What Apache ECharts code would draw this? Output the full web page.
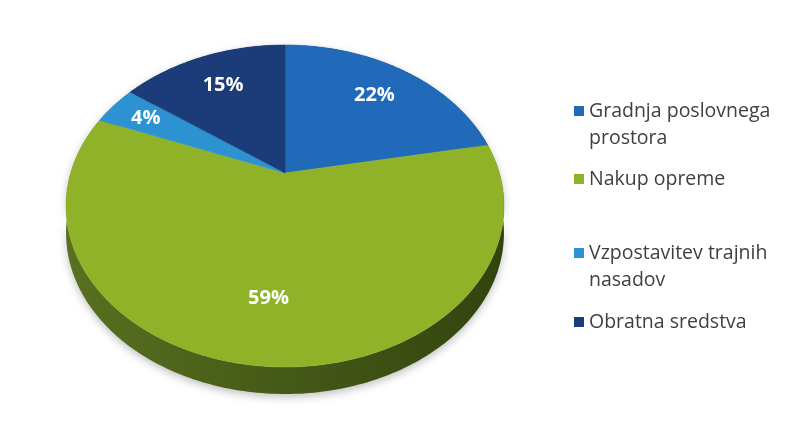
<!DOCTYPE html>
<html><head><meta charset="utf-8">
<script src="https://cdn.jsdelivr.net/npm/echarts@6/dist/echarts.min.js"></script>
<style>html,body{margin:0;padding:0;background:#fff}#c{width:792px;height:441px}</style>
</head><body><div id="c"></div>
<script>
const categories = ['Gradnja poslovnega prostora', 'Nakup opreme', 'Vzpostavitev trajnih nasadov', 'Obratna sredstva'];
const values = [22, 59, 4, 15];
const legendLabels = ['Gradnja poslovnega\nprostora', 'Nakup opreme', 'Vzpostavitev trajnih\nnasadov', 'Obratna sredstva'];

// styles / layout (not data)
const colors = ['#2169b9', '#8fb228', '#2c92d2', '#1b3c78'];
const sideDark = [['#174f8c', '#0f3a6a'], ['#587020', '#33430e'], ['#1f6d9e', '#164f75'], ['#132c58', '#0c1d3d']];
const labelR = [0.73, 0.7, 0.8, 0.72];
const legendTops = [70.5, 165.5, 212.5, 308.5];

// perspective projection of the pie disc
const CX = 285, CY = 173, SCALE = 214.3, SIN_A = 0.7197, K = 0.205, DEPTH = 27;
function proj(phi, r, dy) {
  const x = Math.sin(phi) * r, y = Math.cos(phi) * r;
  const w = 1 + K * y;
  return [CX + SCALE * x / w, CY - SCALE * SIN_A * y / w + (dy || 0)];
}
const total = values.reduce((a, b) => a + b, 0);
const starts = [];
values.reduce((acc, v) => { starts.push(acc); return acc + v; }, 0);

function renderItem(params, api) {
  const i = params.seriesIndex;
  const v = api.value(0), s = api.value(1);
  const a0 = 2 * Math.PI * s / total, a1 = 2 * Math.PI * (s + v) / total;
  const n = Math.max(4, Math.ceil((a1 - a0) / (Math.PI / 180)));
  const arc = [], arcB = [];
  for (let k = 0; k <= n; k++) {
    const a = a0 + (a1 - a0) * k / n;
    arc.push(proj(a, 1));
    arcB.push(proj(a, 1, DEPTH));
  }
  const side = arc.concat(arcB.slice().reverse());
  const top = [[CX, CY]].concat(arc);
  const mid = (a0 + a1) / 2;
  const lp = proj(mid, labelR[i]);
  return {
    type: 'group',
    children: [
      { type: 'polygon', z2: 1, shape: { points: side },
        style: { fill: new echarts.graphic.LinearGradient(0, 0, 1, 0, [
          { offset: 0, color: sideDark[i][0] }, { offset: 1, color: sideDark[i][1] }]),
          shadowBlur: 8, shadowColor: 'rgba(0,0,0,0.25)', shadowOffsetY: 3 } },
      { type: 'polygon', z2: 10, shape: { points: top },
        style: { fill: colors[i], stroke: colors[i], lineWidth: 0.5 } },
      { type: 'text', z2: 20, x: lp[0], y: lp[1],
        style: { text: Math.round(v / total * 100) + '%', fill: '#ffffff', font: 'bold 20px "Open Sans", sans-serif',
          align: 'center', verticalAlign: 'middle' } }
    ]
  };
}

const series = categories.map((c, i) => ({
  type: 'custom', name: c, coordinateSystem: 'none', renderItem: renderItem,
  itemStyle: { color: colors[i] }, silent: true,
  data: [[values[i], starts[i]]]
}));

const legend = categories.map((c, i) => ({
  data: [c], left: 574, top: legendTops[i], orient: 'vertical', padding: 0,
  itemWidth: 10, itemHeight: 10, icon: 'rect', selectedMode: false,
  formatter: name => { const t = legendLabels[categories.indexOf(name)]; return t.indexOf('\n') >= 0 ? '\n' + t : t; },
  textStyle: { fontSize: 19.5, lineHeight: 27, color: '#404040', fontFamily: '"Open Sans", sans-serif' }
}));

const chart = echarts.init(document.getElementById('c'), null, { renderer: 'canvas' });
chart.setOption({ animation: false, backgroundColor: '#ffffff', legend: legend, series: series });
</script></body></html>
